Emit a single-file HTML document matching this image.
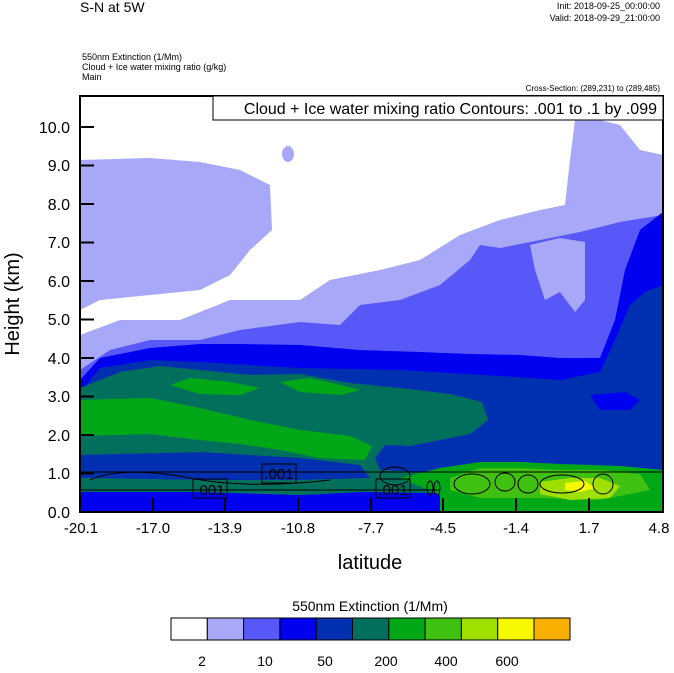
<!DOCTYPE html>
<html><head><style>
body{margin:0;background:#fff;width:674px;height:668px;overflow:hidden;font-family:"Liberation Sans",sans-serif}
</style></head><body>
<svg width="674" height="668" viewBox="0 0 674 668" xmlns="http://www.w3.org/2000/svg" font-family="Liberation Sans, sans-serif">
<text x="80" y="12" font-size="14">S-N at 5W</text>
<text x="660" y="9" font-size="9" text-anchor="end">Init: 2018-09-25_00:00:00</text>
<text x="660" y="21" font-size="9" text-anchor="end">Valid: 2018-09-29_21:00:00</text>
<text x="82" y="60" font-size="9">550nm Extinction   (1/Mm)</text>
<text x="82" y="70" font-size="9">Cloud + Ice water mixing ratio   (g/kg)</text>
<text x="82" y="80" font-size="9">Main</text>
<text x="660" y="91" font-size="8" text-anchor="end">Cross-Section: (289,231) to (289,485)</text>
<clipPath id="c"><rect x="80" y="96" width="583" height="416"/></clipPath>
<g clip-path="url(#c)">
<rect x="80" y="96" width="583" height="416" fill="#fff"/>
<polygon fill="#a8a8f8" points="80,160 150,158 200,162 240,170 270,185 272,230 250,250 230,275 200,290 150,295 100,300 80,310"/>
<polygon fill="#a8a8f8" points="80,335 120,320 180,320 230,300 300,300 330,280 380,270 420,260 460,235 500,220 540,210 565,205 570,160 575,120 600,120 620,125 640,150 663,155 663,512 80,512"/>
<ellipse cx="288" cy="154" rx="6" ry="8" fill="#a8a8f8"/>
<polygon fill="#5858f8" points="80,370 110,350 150,340 200,340 240,330 300,322 340,325 360,305 400,300 440,285 470,260 480,245 500,248 540,240 580,232 620,222 663,215 663,512 80,512"/>
<polygon fill="#a8a8f8" points="530,245 560,238 585,242 585,300 575,312 560,292 545,300 535,270"/>
<polygon fill="#0000f0" points="80,380 100,358 150,348 200,344 240,344 300,345 360,350 420,352 470,354 520,355 560,358 600,358 615,320 625,270 640,230 663,212 663,512 80,512"/>
<polygon fill="#0030b0" points="80,392 100,368 150,360 200,362 300,368 400,370 500,376 560,380 600,372 615,340 630,305 645,292 663,285 663,512 80,512"/>
<polygon fill="#0000f0" points="590,395 625,392 640,400 630,410 600,410"/>
<polygon fill="#00705c" points="80,388 120,372 160,366 200,370 250,375 300,374 350,383 400,388 450,394 482,402 488,420 470,434 440,440 410,446 385,445 375,458 380,470 420,472 470,470 520,468 560,465 600,470 663,470 663,512 80,512"/>
<polygon fill="#00a818" points="80,400 150,398 200,408 250,420 300,430 350,436 372,446 365,460 320,458 280,450 240,444 200,440 150,434 80,436"/>
<polygon fill="#00a818" points="170,385 190,378 230,382 260,388 240,395 200,394"/>
<polygon fill="#00a818" points="280,382 310,378 340,385 360,390 340,395 300,392"/>
<polygon fill="#0030b0" points="80,455 200,452 300,458 360,465 370,478 300,480 200,480 80,478"/>
<polygon fill="#0000f0" points="80,492 200,492 300,495 360,492 440,493 440,512 80,512"/>
<polygon fill="#00705c" points="80,478 200,480 300,484 360,484 440,485 440,493 360,492 300,495 200,492 80,492"/>
<polygon fill="#00a818" points="400,478 440,468 480,462 520,462 560,464 620,466 663,470 663,512 440,512 440,495"/>
<polygon fill="#40c010" points="450,478 480,468 520,468 560,470 600,470 640,474 650,490 600,500 540,498 480,498 450,490"/>
<polygon fill="#a0e000" points="540,482 570,478 600,478 620,486 610,498 570,500 540,494"/>
<polygon fill="#f8f800" points="565,483 585,481 595,488 580,492 565,490"/>
</g>
<g fill="none" stroke="#000" stroke-width="1">
<path d="M80,472 L663,472 M80,490 L440,490"/>
<path d="M90,480 C110,470 150,470 190,478 C230,486 280,486 330,480"/>
<ellipse cx="472" cy="484" rx="18" ry="10"/><ellipse cx="505" cy="482" rx="10" ry="9"/>
<ellipse cx="528" cy="484" rx="10" ry="9"/><ellipse cx="562" cy="484" rx="22" ry="9"/>
<ellipse cx="603" cy="484" rx="10" ry="10"/><ellipse cx="430" cy="488" rx="3" ry="7"/><ellipse cx="437" cy="488" rx="3" ry="7"/>
<ellipse cx="395" cy="476" rx="15" ry="9"/>
</g>
<g font-size="15" text-anchor="middle">
<rect x="193" y="479" width="34" height="19" fill="none" stroke="#000"/><text x="210" y="495">.001</text>
<rect x="262" y="464" width="34" height="19" fill="none" stroke="#000"/><text x="279" y="479">.001</text>
<rect x="376" y="479" width="34" height="19" fill="none" stroke="#000"/><text x="393" y="495">.001</text>
</g>
<rect x="80" y="96" width="583" height="416" fill="none" stroke="#000" stroke-width="2"/>
<rect x="213" y="96" width="450" height="24" fill="#fff" stroke="#000" stroke-width="1"/>
<text x="657" y="114" font-size="16" text-anchor="end">Cloud + Ice water mixing ratio Contours: .001 to .1 by .099</text>
<g stroke="#000" stroke-width="2">
<path d="M80,127h14M80,165.5h14M80,204h14M80,242.5h14M80,281h14M80,319.5h14M80,358h14M80,396.5h14M80,435h14M80,473.5h14"/>
<path d="M153,512v-14M225,512v-14M298,512v-14M371,512v-14M443,512v-14M516,512v-14M589,512v-14"/>
</g>
<g font-size="16" text-anchor="end">
<text x="70" y="133">10.0</text><text x="70" y="171">9.0</text><text x="70" y="210">8.0</text><text x="70" y="248">7.0</text><text x="70" y="287">6.0</text><text x="70" y="325">5.0</text><text x="70" y="364">4.0</text><text x="70" y="402">3.0</text><text x="70" y="441">2.0</text><text x="70" y="479">1.0</text><text x="70" y="518">0.0</text>
</g>
<g font-size="15" text-anchor="middle">
<text x="81" y="533">-20.1</text><text x="153" y="533">-17.0</text><text x="225" y="533">-13.9</text><text x="298" y="533">-10.8</text><text x="371" y="533">-7.7</text><text x="443" y="533">-4.5</text><text x="516" y="533">-1.4</text><text x="589" y="533">1.7</text><text x="659" y="533">4.8</text>
</g>
<text x="370" y="569" font-size="20" text-anchor="middle">latitude</text>
<text transform="translate(19,304) rotate(-90)" font-size="20" text-anchor="middle">Height (km)</text>
<text x="370" y="611" font-size="14" text-anchor="middle">550nm Extinction  (1/Mm)</text>
<g stroke="#000" stroke-width="1">
<rect x="171" y="618" width="36.3" height="22" fill="#fff"/>
<rect x="207.3" y="618" width="36.3" height="22" fill="#a8a8f8"/>
<rect x="243.6" y="618" width="36.3" height="22" fill="#5858f8"/>
<rect x="279.9" y="618" width="36.3" height="22" fill="#0000f0"/>
<rect x="316.2" y="618" width="36.3" height="22" fill="#0030b0"/>
<rect x="352.5" y="618" width="36.3" height="22" fill="#00705c"/>
<rect x="388.8" y="618" width="36.3" height="22" fill="#00a818"/>
<rect x="425.1" y="618" width="36.3" height="22" fill="#40c010"/>
<rect x="461.4" y="618" width="36.3" height="22" fill="#a0e000"/>
<rect x="497.7" y="618" width="36.3" height="22" fill="#f8f800"/>
<rect x="534" y="618" width="36" height="22" fill="#f8b000"/>
</g>
<g font-size="14" text-anchor="middle">
<text x="202" y="666">2</text><text x="265" y="666">10</text><text x="325" y="666">50</text><text x="386" y="666">200</text><text x="446" y="666">400</text><text x="507" y="666">600</text>
</g>
</svg>
</body></html>
